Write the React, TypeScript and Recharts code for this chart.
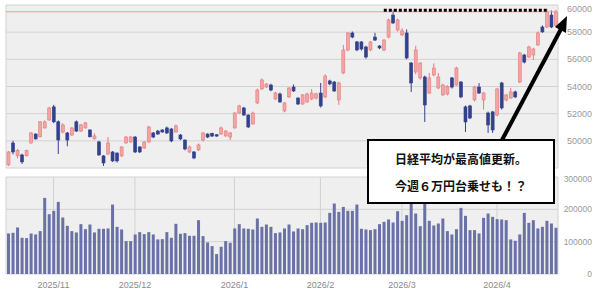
import {
  ComposedChart,
  BarChart,
  Bar,
  XAxis,
  YAxis,
  CartesianGrid,
  ReferenceLine,
} from "recharts";

// ---------------------------------------------------------------------------
// Nikkei 225 daily candles + volume (2025/10/20 – 2026/4)
// ---------------------------------------------------------------------------

const OPEN = [
  48230, 49840, 48900, 48960, 48900, 49840, 50500, 50300, 50950, 51530,
  52500, 51400, 50650, 50580, 50430, 51400, 50720, 50950, 50800, 50140,
  49920, 48890, 49030, 49180, 49100, 48890, 49840, 49920, 50280, 49550,
  49470, 49920, 50580, 50720, 50800, 50950, 50870, 50650, 50430, 50060,
  49180, 49180, 49330, 50060, 50500, 50550, 50450, 50500, 50360, 50280,
  50950, 52050, 52420, 51900, 51240, 52790, 53820, 53960, 54110, 53080,
  53450, 52200, 53230, 53960, 53150, 52710, 52860, 53080, 53150, 53520,
  53230, 54410, 54330, 53010, 55000, 56690, 57940, 57280, 57280, 56910,
  56690, 57640, 56980, 56690, 57640, 59260, 58160, 57800, 57940, 55730,
  55070, 54630, 54700, 53520, 54850, 53890, 53380, 53450, 54630, 54110,
  54330, 52500, 52570, 53010, 53960, 53010, 52050, 52130, 51900, 54260,
  53010, 53150, 53600, 54330, 56320, 56170, 56320, 57060, 58380, 58380,
  59260, 58500,
];

const CLOSE = [
  49180, 49180, 49300, 48450, 49300, 50580, 50140, 51400, 51400, 52420,
  51400, 50060, 51170, 50060, 50950, 50720, 51170, 51320, 50300, 50360,
  48960, 48370, 49840, 48520, 48520, 49550, 50280, 50280, 49180, 49180,
  49910, 51020, 50280, 50500, 50650, 50580, 49990, 51100, 50140, 49400,
  49550, 48740, 49700, 50580, 50280, 50350, 50350, 50950, 50720, 50580,
  52050, 52570, 51900, 51020, 52050, 53740, 54480, 54180, 53740, 53520,
  52860, 52790, 53890, 53670, 52710, 53380, 53450, 53520, 53450, 52570,
  54770, 54190, 53670, 54260, 56690, 57940, 57640, 56690, 56760, 56170,
  57280, 57420, 56840, 57420, 58900, 58680, 58900, 58100, 56100, 54260,
  56690, 55730, 52640, 54630, 55360, 54700, 54110, 54000, 53960, 55360,
  53230, 51390, 51680, 53960, 53520, 53520, 51170, 50800, 53820, 52420,
  53380, 53600, 53230, 56470, 55800, 56910, 56760, 57940, 58020, 59480,
  58380, 59450,
];

const HIGH = [
  49250, 50000, 49400, 49050, 49350, 50650, 50550, 51450, 51500, 52500,
  52650, 51500, 51300, 50650, 51000, 51500, 51250, 51400, 50850, 50550,
  50000, 48950, 50280, 49250, 49150, 49600, 50350, 50350, 50350, 49600,
  49980, 51100, 50650, 50800, 50850, 51050, 50950, 51200, 50500, 50100,
  49650, 49250, 49800, 50650, 50550, 50600, 50500, 51050, 50800, 50650,
  52100, 52650, 52500, 51950, 52150, 53850, 54600, 54250, 54200, 53600,
  53550, 52850, 53950, 54150, 53200, 53450, 53550, 53800, 53550, 54260,
  54900, 54500, 54400, 54350, 57060, 58000, 58050, 57350, 57350, 57000,
  57350, 57950, 57050, 57500, 59000, 59600, 59000, 58300, 58200, 55800,
  57000, 55800, 54800, 55000, 55700, 55000, 54200, 54100, 54700, 55450,
  54400, 52600, 52650, 54050, 54250, 53600, 52150, 52200, 53900, 54350,
  53450, 53900, 53700, 56550, 56400, 57000, 56850, 58050, 58500, 59700,
  59600, 59650,
];

const LOW = [
  48150, 49000, 48700, 48300, 48850, 49800, 50100, 50250, 50900, 51500,
  51300, 49030, 50550, 49600, 50350, 50650, 50650, 50900, 50250, 50100,
  48900, 48150, 48950, 48450, 48400, 48800, 49800, 49850, 49100, 49100,
  49400, 49850, 50200, 50450, 50600, 50500, 49900, 50600, 50050, 49300,
  49100, 48650, 49250, 49950, 50200, 50300, 50300, 50450, 50300, 50050,
  50900, 52000, 51850, 50950, 51200, 52700, 53750, 53900, 53650, 53000,
  52800, 52100, 53150, 53600, 52650, 52650, 52800, 53000, 53050, 52450,
  53150, 54100, 53600, 52650, 54900, 56600, 57550, 56600, 56650, 56050,
  56600, 57350, 56750, 56600, 57550, 58600, 58050, 57700, 56000, 53600,
  54900, 54500, 51390, 53450, 54750, 53800, 53300, 53350, 53850, 54050,
  53150, 50650, 51600, 52900, 53450, 52300, 50580, 50580, 51800, 52300,
  52900, 53100, 53150, 54250, 55700, 56100, 55950, 57000, 57950, 58300,
  58300, 58400,
];

const VOLUME = [
  125400, 127400, 143900, 112000, 111000, 125400, 122300, 132600, 235400, 185000,
  195300, 223000, 174700, 149000, 132600, 128500, 154200, 138700, 153100, 128500,
  139800, 139800, 140800, 214800, 145900, 137700, 101700, 101700, 122300, 129500,
  123300, 129500, 122300, 106900, 107900, 129500, 112000, 155200, 124400, 126400,
  118200, 118200, 166500, 117200, 97600, 86300, 61700, 84300, 101700, 96600,
  140800, 154200, 140800, 139800, 137700, 171600, 145900, 153100, 145900, 126400,
  128500, 140800, 153100, 131600, 140800, 138700, 151100, 158300, 159300, 158300,
  159300, 189100, 217900, 192200, 207600, 195300, 195300, 214800, 139800, 137700,
  135700, 138700, 154200, 161400, 168600, 159300, 194200, 164400, 181900, 217900,
  187100, 148000, 223000, 164400, 150100, 156200, 171600, 132600, 122300, 138700,
  204500, 179900, 135700, 135700, 125400, 173700, 187100, 176800, 169600, 168600,
  166500, 106900, 102800, 122300, 189100, 158300, 166500, 140800, 145900, 164400,
  156200, 142900,
];

// first trading day of each month (row index) and its label
const MONTH_IDX = [10, 28, 50, 69, 87, 108];
const MONTH_LABELS = ["2025/11", "2025/12", "2026/1", "2026/2", "2026/3", "2026/4"];

const PRICE_TICKS = [48000, 50000, 52000, 54000, 56000, 58000, 60000];
const VOLUME_TICKS = [0, 100000, 200000, 300000];

// annotation values
const LAST_PRICE = 59500;
const PREV_HIGH = 59620;
const PREV_HIGH_FROM = 83;
const PREV_HIGH_TO = 119;

const NOTE_LINES = ["日経平均が最高値更新。", "今週６万円台乗せも！？"];

// colours
const UP_FILL = "#f3a5a5";
const UP_LINE = "#e27c7c";
const DOWN = "#33418c";
const VOL_COLOR = "#6a71a6";
const PLOT_BG = "#efefef";
const GRID = "#d2d2d2";
const TICK_FONT = "'Liberation Sans', Arial, sans-serif";

const rows = OPEN.map((o, i) => ({
  i,
  open: o,
  close: CLOSE[i],
  high: HIGH[i],
  low: LOW[i],
  vol: VOLUME[i],
}));

function Candle(props: any) {
  const { x, y, width, height, payload } = props;
  if (!payload) return null;
  const { open, close, high, low } = payload;
  const top = Math.min(y, y + height);
  const h = Math.abs(height);
  const k = high > low ? h / (high - low) : 0;
  const py = (v: number) => top + (high - v) * k;
  const up = close >= open;
  const color = up ? UP_LINE : DOWN;
  const cx = x + width / 2;
  const bTop = py(Math.max(open, close));
  const bH = Math.max(1, py(Math.min(open, close)) - bTop);
  return (
    <g>
      <line x1={cx} x2={cx} y1={top} y2={top + h} stroke={color} strokeWidth={1} />
      <rect
        x={x}
        y={bTop}
        width={width}
        height={bH}
        fill={up ? UP_FILL : DOWN}
        stroke={color}
        strokeWidth={0.6}
      />
    </g>
  );
}

function RightTick(props: any) {
  const { y, payload, size } = props;
  return (
    <text
      x={592}
      y={y}
      textAnchor="end"
      dominantBaseline="central"
      fontSize={size}
      fontFamily={TICK_FONT}
      fill="#9a9a9a"
    >
      {payload.value}
    </text>
  );
}

const monthLabel = (v: number) => MONTH_LABELS[MONTH_IDX.indexOf(v)] ?? "";

export default function App() {
  return (
    <div
      style={{
        position: "absolute",
        left: 0,
        top: 0,
        width: 600,
        height: 293,
        background: "#fff",
        overflow: "hidden",
      }}
    >
      {/* price panel */}
      <div style={{ position: "absolute", left: 0, top: 0 }}>
        <ComposedChart
          width={600}
          height={170}
          data={rows}
          margin={{ top: 5, right: 0, bottom: 2, left: 6 }}
          barCategoryGap={0}
        >
          <CartesianGrid fill={PLOT_BG} stroke={GRID} />
          <XAxis
            dataKey="i"
            type="category"
            ticks={MONTH_IDX}
            height={0}
            tick={false}
            tickLine={false}
            axisLine={false}
          />
          <YAxis
            orientation="right"
            width={42}
            domain={[48000, 60000]}
            ticks={PRICE_TICKS}
            allowDataOverflow
            tickLine={false}
            axisLine={false}
            tick={<RightTick size={9} />}
          />
          <ReferenceLine y={LAST_PRICE} stroke="#f29a9a" strokeWidth={1} />
          <Bar
            dataKey={(d: any) => [d.low, d.high]}
            barSize={3}
            shape={<Candle />}
            isAnimationActive={false}
          />
          <ReferenceLine
            segment={[
              { x: PREV_HIGH_FROM, y: PREV_HIGH },
              { x: PREV_HIGH_TO, y: PREV_HIGH },
            ]}
            stroke="#000"
            strokeWidth={3}
            strokeDasharray="3 2"
          />
        </ComposedChart>
      </div>

      {/* volume panel */}
      <div style={{ position: "absolute", left: 0, top: 170 }}>
        <BarChart
          width={600}
          height={123}
          data={rows}
          margin={{ top: 7, right: 0, bottom: 0, left: 6 }}
        >
          <CartesianGrid fill={PLOT_BG} stroke={GRID} />
          <XAxis
            dataKey="i"
            type="category"
            ticks={MONTH_IDX}
            height={19}
            tickLine={false}
            axisLine={false}
            tickSize={0}
            tickMargin={8}
            tickFormatter={monthLabel}
            tick={{ fontSize: 9, fill: "#8a8a8a", fontFamily: TICK_FONT }}
          />
          <YAxis
            orientation="right"
            width={42}
            domain={[0, 300000]}
            ticks={VOLUME_TICKS}
            tickLine={false}
            axisLine={false}
            tick={<RightTick size={8.5} />}
          />
          <Bar dataKey="vol" fill={VOL_COLOR} barSize={3} isAnimationActive={false} />
        </BarChart>
      </div>

      {/* arrow to the new high */}
      <svg
        width={600}
        height={293}
        style={{ position: "absolute", left: 0, top: 0, pointerEvents: "none" }}
      >
        <line x1={502} y1={140} x2={561} y2={29} stroke="#000" strokeWidth={4} />
        <polygon points="567,16 566,33 555,27" fill="#000" />
      </svg>

      {/* comment box */}
      <div
        style={{
          position: "absolute",
          left: 367,
          top: 139,
          width: 184,
          height: 57,
          border: "2px solid #000",
          background: "#fff",
          paddingTop: 4,
          boxSizing: "content-box",
          textAlign: "center",
          fontFamily: "'Noto Sans CJK JP', sans-serif",
          fontWeight: 700,
          fontSize: 12,
          lineHeight: "27px",
          color: "#111",
        }}
      >
        {NOTE_LINES.map((t) => (
          <div key={t}>{t}</div>
        ))}
      </div>
    </div>
  );
}
